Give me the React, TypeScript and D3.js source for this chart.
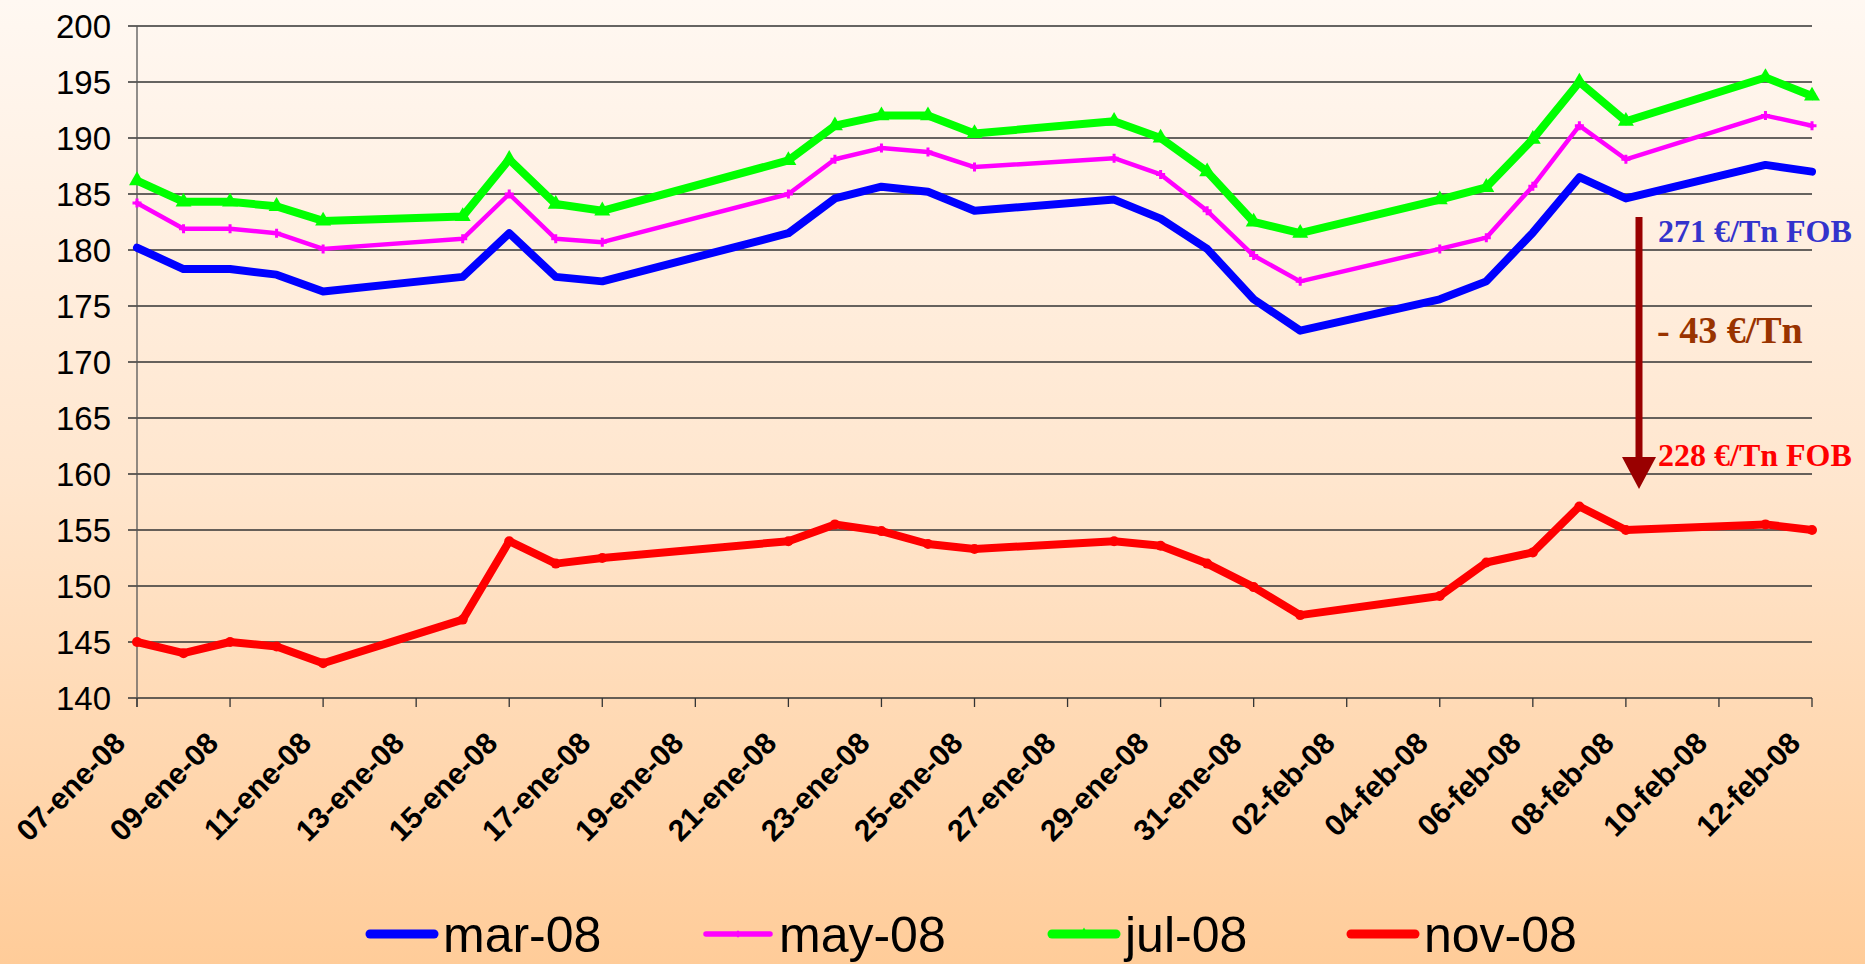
import React from "react";
import * as d3 from "d3";

// trading days shown in the chart
const dates = [
  "2008-01-07", "2008-01-08", "2008-01-09", "2008-01-10", "2008-01-11",
  "2008-01-14", "2008-01-15", "2008-01-16", "2008-01-17",
  "2008-01-21", "2008-01-22", "2008-01-23", "2008-01-24", "2008-01-25",
  "2008-01-28", "2008-01-29", "2008-01-30", "2008-01-31", "2008-02-01",
  "2008-02-04", "2008-02-05", "2008-02-06", "2008-02-07", "2008-02-08",
  "2008-02-11", "2008-02-12",
];

const mar08 = [180.2, 178.3, 178.3, 177.8, 176.3, 177.6, 181.5, 177.6, 177.2, 181.5, 184.6, 185.65, 185.2, 183.5, 184.5, 182.8, 180.1, 175.6, 172.8, 175.6, 177.2, 181.55, 186.5, 184.6, 187.6, 187.0];
const may08 = [184.2, 181.9, 181.9, 181.5, 180.1, 181.0, 185.0, 181.0, 180.7, 185.0, 188.1, 189.1, 188.75, 187.4, 188.2, 186.75, 183.5, 179.5, 177.2, 180.1, 181.1, 185.7, 191.1, 188.1, 192.0, 191.1];
const jul08 = [186.2, 184.3, 184.3, 183.9, 182.6, 183.0, 188.1, 184.1, 183.5, 188.0, 191.1, 192.0, 192.0, 190.4, 191.5, 190.0, 187.0, 182.5, 181.5, 184.5, 185.6, 189.9, 195.0, 191.5, 195.4, 193.75];
const nov08 = [145.0, 144.0, 145.0, 144.6, 143.1, 147.0, 154.0, 152.0, 152.5, 154.0, 155.5, 154.9, 153.75, 153.3, 154.0, 153.6, 152.0, 149.9, 147.4, 149.1, 152.1, 153.0, 157.1, 155.0, 155.5, 155.0];

const seriesNames = ["mar-08", "may-08", "jul-08", "nov-08"];
const yTicks = [140, 145, 150, 155, 160, 165, 170, 175, 180, 185, 190, 195, 200];
const xTickLabels = [
  "07-ene-08", "09-ene-08", "11-ene-08", "13-ene-08", "15-ene-08", "17-ene-08",
  "19-ene-08", "21-ene-08", "23-ene-08", "25-ene-08", "27-ene-08", "29-ene-08",
  "31-ene-08", "02-feb-08", "04-feb-08", "06-feb-08", "08-feb-08", "10-feb-08",
  "12-feb-08",
];
const monthAbbr = ["ene", "feb"];

const W = 1865;
const H = 964;
const SANS = "'Liberation Sans', Arial, sans-serif";
const SERIF = "'Liberation Serif', 'Times New Roman', serif";

const parseIso = d3.utcParse("%Y-%m-%d");
const parseLabel = (s: string) => {
  const [dd, mm, yy] = s.split("-");
  return new Date(Date.UTC(2000 + +yy, monthAbbr.indexOf(mm), +dd));
};

const x = d3
  .scaleUtc()
  .domain([parseLabel(xTickLabels[0]), parseLabel(xTickLabels[xTickLabels.length - 1])])
  .range([137, 1812]);
const y = d3.scaleLinear().domain([140, 200]).range([698, 26]);

const styles = [
  { name: seriesNames[0], values: mar08, color: "#0000FF", width: 8, marker: "none" },
  { name: seriesNames[1], values: may08, color: "#FF00FF", width: 4.5, marker: "plus" },
  { name: seriesNames[2], values: jul08, color: "#00FF00", width: 8, marker: "triangle" },
  { name: seriesNames[3], values: nov08, color: "#FF0000", width: 8, marker: "circle" },
];

const line = d3
  .line<[Date, number]>()
  .x((d) => x(d[0]))
  .y((d) => y(d[1]));

const triangle = d3.symbol(d3.symbolTriangle, 110)()!;
const plus = d3.symbol(d3.symbolCross, 45)()!;

function Marker({ kind, color, size = 1 }: { kind: string; color: string; size?: number }) {
  if (kind === "triangle") return <path d={triangle} fill={color} transform={`scale(${size})`} />;
  if (kind === "plus") return <path d={plus} fill={color} transform={`scale(${size})`} />;
  if (kind === "circle") return <circle r={5 * size} fill={color} />;
  return null;
}

const legendPos = [370, 706, 1052, 1351];

export default function App() {
  const tickDates = xTickLabels.map(parseLabel);
  return (
    <svg
      width={W}
      height={H}
      style={{ position: "absolute", left: 0, top: 0, display: "block" }}
    >
      <defs>
        <linearGradient id="bg" x1="0" y1="0" x2="0" y2="1">
          <stop offset="0" stopColor="#FFF8F2" />
          <stop offset="0.5" stopColor="#FFE6CE" />
          <stop offset="1" stopColor="#FFCC99" />
        </linearGradient>
      </defs>
      <rect x={0} y={0} width={W} height={H} fill="url(#bg)" />

      {/* gridlines and y ticks */}
      {yTicks.map((t) => (
        <g key={t}>
          <line x1={128} x2={1812} y1={y(t)} y2={y(t)} stroke="#333" strokeWidth={1.3} />
          <text
            x={111}
            y={y(t)}
            dy="0.36em"
            textAnchor="end"
            fontFamily={SANS}
            fontSize={33}
            fill="#000"
          >
            {t}
          </text>
        </g>
      ))}

      {/* y axis */}
      <line x1={137} x2={137} y1={y(200)} y2={707} stroke="#555" strokeWidth={1.3} />

      {/* x ticks + labels */}
      {tickDates.map((d, i) => (
        <g key={xTickLabels[i]}>
          <line x1={x(d)} x2={x(d)} y1={698} y2={707} stroke="#333" strokeWidth={1.3} />
          <text
            transform={`translate(${x(d) - 10},${745}) rotate(-45)`}
            textAnchor="end"
            fontFamily={SANS}
            fontWeight="bold"
            fontSize={30}
            fill="#000"
          >
            {xTickLabels[i]}
          </text>
        </g>
      ))}

      {/* series */}
      {styles.map((s) => {
        const pts: [Date, number][] = dates.map((d, i) => [parseIso(d)!, s.values[i]]);
        return (
          <g key={s.name}>
            <path
              d={line(pts)!}
              fill="none"
              stroke={s.color}
              strokeWidth={s.width}
              strokeLinejoin="round"
              strokeLinecap="round"
            />
            {pts.map((p, i) => (
              <g key={i} transform={`translate(${x(p[0])},${y(p[1])})`}>
                <Marker kind={s.marker} color={s.color} />
              </g>
            ))}
          </g>
        );
      })}

      {/* annotation arrow */}
      <line x1={1639} x2={1639} y1={217} y2={460} stroke="#990000" strokeWidth={7} />
      <path d="M1622,457 L1656,457 L1639,489 Z" fill="#990000" />
      <text x={1658} y={242} fontFamily={SERIF} fontWeight="bold" fontSize={32} fill="#3333CC">
        271 €/Tn FOB
      </text>
      <text x={1657} y={343} fontFamily={SERIF} fontWeight="bold" fontSize={38} fill="#993300">
        - 43 €/Tn
      </text>
      <text x={1658} y={466} fontFamily={SERIF} fontWeight="bold" fontSize={32} fill="#FF0000">
        228 €/Tn FOB
      </text>

      {/* legend */}
      {styles.map((s, i) => (
        <g key={s.name} transform={`translate(${legendPos[i]},934)`}>
          <line x1={0} x2={64} y1={0} y2={0} stroke={s.color} strokeWidth={s.width + 1} strokeLinecap="round" />
          <g transform="translate(32,0)">
            <Marker kind={s.marker} color={s.color} size={0.7} />
          </g>
          <text x={73} y={18} fontFamily={SANS} fontSize={50} fill="#000">
            {s.name}
          </text>
        </g>
      ))}
    </svg>
  );
}
